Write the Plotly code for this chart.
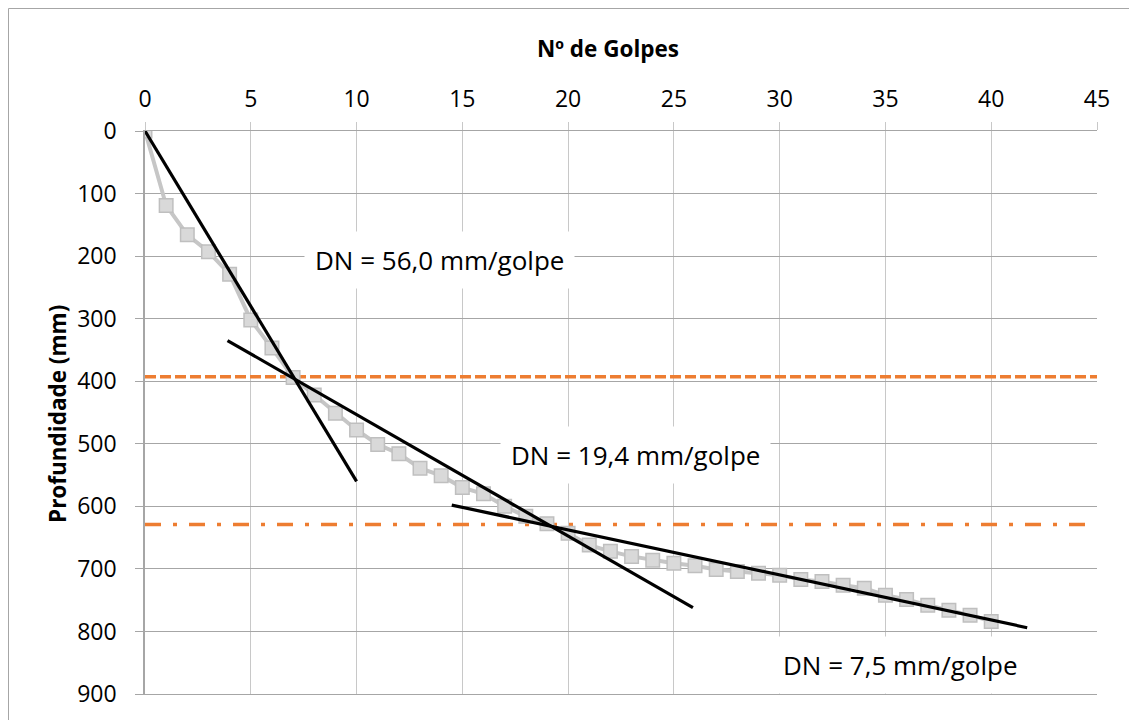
import plotly.graph_objects as go

# ---- data ----
golpes = list(range(0, 41))
profundidade = [0, 119, 166, 193, 229, 302, 347, 394, 422, 451, 478, 501, 516, 539, 551,
                570, 580, 600, 616, 628, 643, 662, 672, 680, 686, 691, 695, 701, 704, 707,
                710, 717, 720, 726, 731, 742, 749, 758, 766, 774, 784]

# trend lines (end points)
trend1_x = [0, 10]
trend1_y = [0, 560]
trend2_x = [3.9, 25.9]
trend2_y = [335, 762]
trend3_x = [14.5, 41.7]
trend3_y = [598, 794]

# layer boundaries (depth, mm)
layer_x = [0, 45]
boundary1 = 393
boundary2 = 629

dn_labels = ["DN = 56,0 mm/golpe", "DN = 19,4 mm/golpe", "DN = 7,5 mm/golpe"]
dn_x = [13.9, 23.18, 35.73]
dn_y = [206, 518, 854]

x_title = "Nº de Golpes"
y_title = "Profundidade (mm)"

FONT = "Open Sans"
OFF = 8                      # page body margin added by the browser
PAGE_W, PAGE_H = 1137, 720
W, H = PAGE_W - OFF, PAGE_H - OFF
PL, PR, PT, PB = 145, 1097, 131, 694   # plot area in page pixels
L, T = PL - OFF, PT - OFF
R, B = W - (PR - OFF), H - (PB - OFF)
PW, PH = PR - PL, PB - PT


def px_to_paper_x(px):
    return (px - PL) / PW


def px_to_paper_y(py):
    return (PB - py) / PH


fig = go.Figure()

fig.add_trace(go.Scatter(
    x=layer_x, y=[boundary1, boundary1], mode="lines",
    line=dict(color="#ED7D31", width=3.5, dash="11px,4px"), showlegend=False, hoverinfo="skip"))
fig.add_trace(go.Scatter(
    x=layer_x, y=[boundary2, boundary2], mode="lines",
    line=dict(color="#ED7D31", width=3.5, dash="16px,12px,4px,12px"), showlegend=False, hoverinfo="skip"))

fig.add_trace(go.Scatter(
    x=golpes, y=profundidade, mode="lines+markers",
    line=dict(color="#C6C6C6", width=4),
    marker=dict(symbol="square", size=13.5, color="#D9D9D9", line=dict(color="#BFBFBF", width=1.5)),
    showlegend=False))

for tx, ty in [(trend1_x, trend1_y), (trend2_x, trend2_y), (trend3_x, trend3_y)]:
    fig.add_trace(go.Scatter(x=tx, y=ty, mode="lines",
                             line=dict(color="black", width=3.2), showlegend=False))

annotations = []
for t, ax_, ay_ in zip(dn_labels, dn_x, dn_y):
    annotations.append(dict(
        x=ax_, y=ay_, xref="x", yref="y", text=t, showarrow=False,
        font=dict(family=FONT, size=26, color="black"),
        bgcolor="white", borderpad=10))

annotations.append(dict(
    x=px_to_paper_x(608), y=px_to_paper_y(48), xref="paper", yref="paper",
    text="<b>" + x_title + "</b>", showarrow=False,
    font=dict(family=FONT, size=22.5, color="black"), xanchor="center", yanchor="middle"))
annotations.append(dict(
    x=px_to_paper_x(58), y=px_to_paper_y(414), xref="paper", yref="paper",
    text="<b>" + y_title + "</b>", showarrow=False, textangle=-90,
    font=dict(family=FONT, size=22.5, color="black"), xanchor="center", yanchor="middle"))

fig.update_layout(
    width=W, height=H,
    margin=dict(l=L, r=R, t=T, b=B, pad=0),
    paper_bgcolor="white", plot_bgcolor="white",
    font=dict(family=FONT, color="black"),
    annotations=annotations,
    shapes=[dict(type="rect", xref="paper", yref="paper",
                 x0=px_to_paper_x(OFF + 0.5), x1=px_to_paper_x(1160),
                 y0=px_to_paper_y(740), y1=px_to_paper_y(OFF + 0.5),
                 line=dict(color="#A6A6A6", width=1), fillcolor="rgba(0,0,0,0)", layer="below")],
    xaxis=dict(side="top", range=[0, 45], dtick=5, tick0=0,
               showgrid=True, gridcolor="#C8C8C8", gridwidth=1,
               zeroline=False, showline=True, mirror=True, linecolor="#A6A6A6", linewidth=1,
               ticks="outside", ticklen=8, tickcolor="#C8C8C8",
               tickfont=dict(family=FONT, size=23, color="black"),
               ticklabelstandoff=6),
    yaxis=dict(range=[900, 0], dtick=100, tick0=0,
               showgrid=True, gridcolor="#A6A6A6", gridwidth=1,
               zeroline=False, showline=True, linecolor="#A6A6A6", linewidth=1.5,
               ticks="outside", ticklen=8, tickcolor="#A6A6A6",
               tickfont=dict(family=FONT, size=23, color="black"),
               ticklabelstandoff=14),
)

fig.write_html("out.html")
